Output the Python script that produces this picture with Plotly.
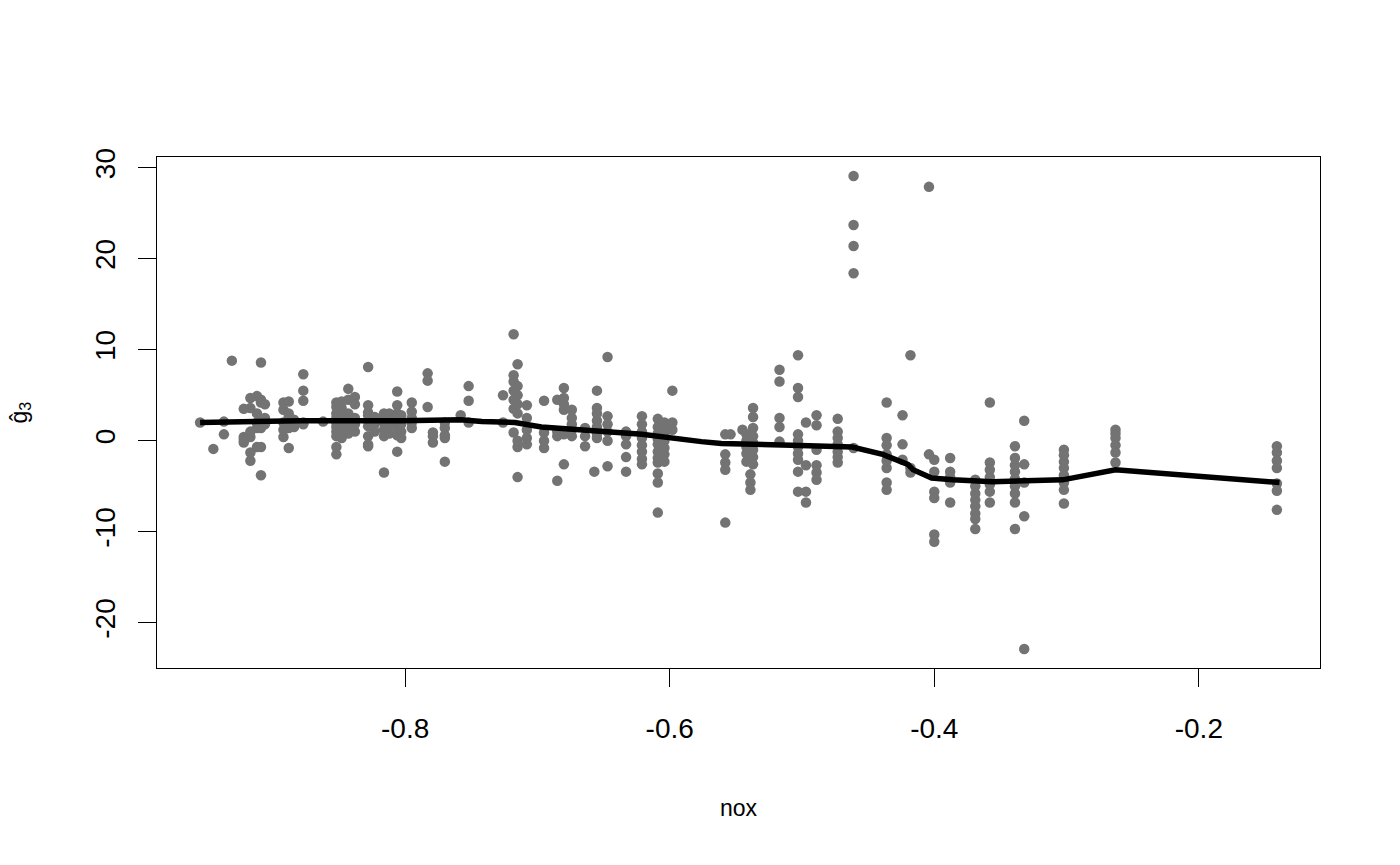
import plotly.graph_objects as go

# column-wise readings: nox level and the g3 values observed at it
nox_levels = [-0.955, -0.945, -0.937, -0.931, -0.922, -0.917, -0.912, -0.909, -0.906,
              -0.892, -0.888, -0.884, -0.877, -0.862, -0.852, -0.848, -0.843, -0.838,
              -0.828, -0.823, -0.816, -0.812, -0.806, -0.803, -0.795, -0.783, -0.779,
              -0.770, -0.758, -0.752, -0.726, -0.718, -0.715, -0.708, -0.695, -0.685,
              -0.680, -0.674, -0.664, -0.657, -0.655, -0.647, -0.633, -0.621, -0.609,
              -0.604, -0.598, -0.558, -0.554, -0.545, -0.542, -0.539, -0.537, -0.517,
              -0.503, -0.497, -0.489, -0.473, -0.461, -0.436, -0.424, -0.418, -0.404,
              -0.400, -0.388, -0.369, -0.358, -0.339, -0.332, -0.302, -0.263, -0.141]

g3_groups = [
    [2.0],
    [-0.9],
    [2.1, 0.7],
    [8.8],
    [0.4, -0.2, 0.1, 3.5],
    [4.7, -1.3, -2.2, 0.4, 1.0, 3.6],
    [4.9, 1.4, 2.0, 3.0, -0.7],
    [8.6, 4.5, 2.3, 1.4, -3.8, -0.7, 4.2],
    [4.0, 2.5, 1.8],
    [4.2, 3.4, 0.4, 1.2, 2.0],
    [2.6, 1.4, -0.8, 3.0, 4.3],
    [2.3, 1.5, 2.0],
    [7.3, 5.5, 4.4, 1.8, 2.0],
    [2.1],
    [3.7, 3.0, 2.0, 1.0, 0.5, -0.7, -1.5, 2.5, 1.5, 4.2],
    [4.3, 3.6, 2.8, 1.8, 1.2, 0.3],
    [5.7, 4.5, 3.0, 2.2, 1.5, 0.8],
    [4.8, 4.0, 2.5, 1.0, 1.8],
    [8.1, 3.9, 3.1, 2.2, 1.6, 0.5, -0.4, -0.6, 2.8],
    [2.6, 1.8, 1.0, 2.0],
    [3.0, 2.0, 1.2, 0.5, 2.5, -3.5],
    [3.0, 2.3, 1.5, 0.8],
    [5.4, 3.9, 3.0, 2.2, 1.5, 0.6, -1.2, 2.7],
    [2.8, 1.8, 1.0, 0.3],
    [4.2, 3.2, 2.5, 2.0, 1.4],
    [7.4, 6.6, 3.7],
    [0.9, -0.2, 0.5],
    [2.0, 1.4, 0.6, -2.3, 0.3],
    [2.8],
    [6.0, 4.4, 2.0],
    [5.0, 2.0],
    [11.7, 7.2, 6.5, 5.5, 4.5, 3.5, 0.9],
    [8.4, 6.0, 5.0, 4.0, 3.0, -0.7, 0.0, -4.0],
    [3.9, 2.5, 1.2, 0.3, -0.4],
    [4.4, 0.9, 0.0, -0.8],
    [4.5, 1.0, 0.5, -4.4],
    [5.8, 4.7, 4.0, 3.4, 0.7, -2.6],
    [3.4, 2.5, 1.8, 1.2, 0.5],
    [1.4, 0.5, -0.6],
    [-3.4],
    [5.5, 3.6, 3.0, 2.2, 1.5, 0.8, 0.3],
    [9.2, 2.7, 1.8, 1.0, 0.0, -2.8],
    [1.0, 0.5, -0.4, -1.8, -3.4],
    [2.7, 1.8, 1.0, 0.3, -0.5, -1.2, -2.0, -2.6],
    [2.4, 1.5, 0.8, 0.2, -0.4, -1.2, -1.9, -2.4, -3.6, -4.6, -7.9],
    [2.0, 1.3, 0.6, 0.0, -0.8, -1.5, -2.3],
    [5.5, 2.0, 1.2],
    [0.7, -1.5, -2.4, -3.2, -9.0],
    [0.7],
    [1.2],
    [0.7, 0.0, -0.7, -1.4, -2.3],
    [-3.7, -4.6, -5.4],
    [3.6, 2.6, 1.4, 0.5, -0.2, -1.0, -1.8, -2.6],
    [7.8, 6.5, 2.5, 1.5, -0.1],
    [9.4, 5.8, 4.8, 0.7, 0.0, -0.7, -1.4, -2.1, -3.4, -5.6],
    [2.0, -2.7, -5.6, -6.8],
    [2.8, 1.7, -1.0, -2.7, -3.5, -4.3],
    [2.4, 1.0, 0.3, -0.4, -1.2, -1.8, -2.4],
    [29.1, 23.7, 21.4, 18.4, -0.8],
    [4.2, 0.3, -0.5, -1.5, -2.2, -3.0, -4.6, -5.4],
    [2.8, -0.4, -2.1],
    [9.4, -3.0, -3.5],
    [27.9, -1.5],
    [-2.1, -3.4, -5.6, -6.3, -10.3, -11.1],
    [-1.9, -3.4, -4.0, -4.6, -6.8],
    [-4.3, -5.0, -5.8, -6.5, -7.2, -8.0, -8.6, -9.7],
    [4.2, -2.4, -3.2, -4.0, -4.8, -5.6, -6.8],
    [-0.6, -1.9, -2.7, -3.4, -4.2, -5.0, -5.8, -6.8, -9.7],
    [2.2, -2.6, -4.6, -8.3, -22.9],
    [-1.0, -1.6, -2.3, -3.0, -3.8, -4.6, -5.4, -6.9],
    [1.2, 0.8, 0.3, -0.5, -1.3, -2.4],
    [-0.6, -1.3, -2.2, -3.0, -4.7, -5.5, -7.6],
]

smooth_x = [-0.955, -0.879, -0.803, -0.758, -0.742, -0.717, -0.697, -0.680, -0.621,
            -0.576, -0.561, -0.508, -0.462, -0.439, -0.420, -0.416, -0.402, -0.386,
            -0.356, -0.303, -0.263, -0.139]
smooth_y = [2.0, 2.2, 2.2, 2.3, 2.1, 2.0, 1.5, 1.3, 0.7,
            -0.1, -0.3, -0.5, -0.7, -1.5, -2.6, -3.2, -4.1, -4.3,
            -4.5, -4.3, -3.2, -4.6]

x_ticks = [-0.8, -0.6, -0.4, -0.2]
x_tick_labels = ["-0.8", "-0.6", "-0.4", "-0.2"]
y_ticks = [-20, -10, 0, 10, 20, 30]
y_tick_labels = ["-20", "-10", "0", "10", "20", "30"]

nox = []
g3 = []
for xv, ys in zip(nox_levels, g3_groups):
    for yv in ys:
        nox.append(xv)
        g3.append(yv)

FONT = "Liberation Sans, Arial, sans-serif"

fig = go.Figure()
fig.add_trace(go.Scatter(
    x=nox, y=g3, mode="markers",
    marker=dict(size=10.5, color="rgb(115,115,115)", line=dict(width=0)),
    showlegend=False, hoverinfo="x+y"))
fig.add_trace(go.Scatter(
    x=smooth_x, y=smooth_y, mode="lines",
    line=dict(color="black", width=5.5),
    showlegend=False))

axis_common = dict(
    showgrid=False, zeroline=False, showline=True, linecolor="black", linewidth=1.3,
    mirror=True, ticks="outside", ticklen=18, tickwidth=1.3, tickcolor="black",
    tickfont=dict(family=FONT, size=28, color="black"),
)

fig.update_layout(
    width=1400, height=865,
    margin=dict(l=157, r=80, t=157, b=197),
    paper_bgcolor="white", plot_bgcolor="white",
    font=dict(family=FONT, color="black"),
    xaxis=dict(range=[-0.9876, -0.1084], tickvals=x_ticks, ticktext=x_tick_labels,
               ticklabelstandoff=17, **axis_common),
    yaxis=dict(range=[-24.98, 31.18], tickvals=y_ticks, ticktext=y_tick_labels,
               tickangle=-90, ticklabelstandoff=12, **axis_common),
)

fig.add_annotation(text="nox", xref="paper", yref="paper", x=0.5, y=0,
                   yshift=-140, showarrow=False, yanchor="middle",
                   font=dict(family=FONT, size=23, color="black"))
fig.add_annotation(text="ĝ<sub>3</sub>", xref="paper", yref="paper", x=0, y=0.5,
                   xshift=-137, showarrow=False, textangle=-90, xanchor="center",
                   font=dict(family=FONT, size=23, color="black"))

fig.write_html("out.html")
